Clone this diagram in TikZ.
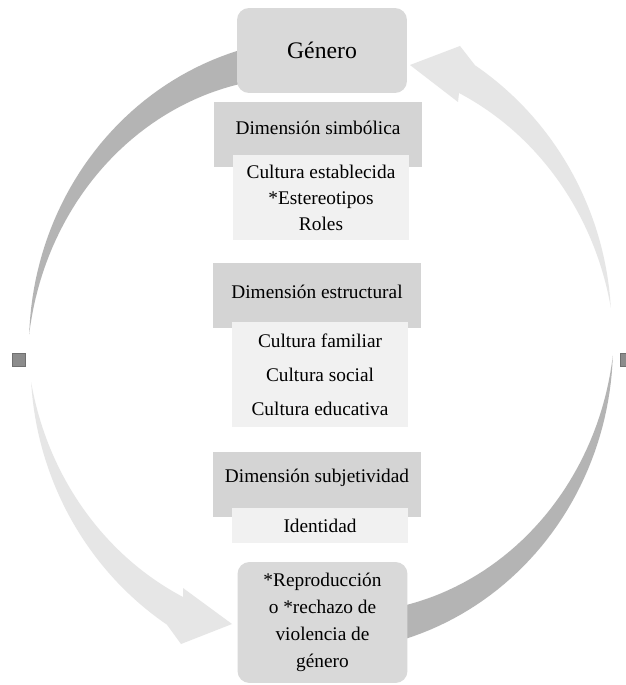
\documentclass[tikz,border=0pt]{standalone}
\usepackage{fontspec}
\setmainfont{Liberation Serif}
\usepackage{tikz}

\definecolor{arcdark}{HTML}{B4B4B4}
\definecolor{arclight}{HTML}{E6E6E6}
\definecolor{boxmain}{HTML}{D9D9D9}
\definecolor{boxhead}{HTML}{D4D4D4}
\definecolor{boxsub}{HTML}{F1F1F1}
\definecolor{handle}{HTML}{8C8C8C}

\begin{document}
\begin{tikzpicture}[x=0.02cm,y=-0.02cm,
		mainbox/.style={rectangle,rounded corners=2.4mm,fill=boxmain,minimum width=34mm,inner sep=0pt,align=center},
		headbox/.style={rectangle,fill=boxhead,minimum width=41.8mm,minimum height=13mm,inner sep=0pt},
		subbox/.style={rectangle,fill=boxsub,minimum width=35.2mm,inner sep=0pt,align=center},
		handlesq/.style={rectangle,fill=handle,draw=handle!80!black,line width=0.2pt,minimum size=2.6mm,inner sep=0pt},
		txt/.style={inner sep=0pt,font=\fontsize{11}{14.8}\selectfont}]
		\fill[white] (0,0) rectangle (625,685);
		\useasboundingbox (0,0) rectangle (625,685);

		% dark arcs, wide at the box and thin at the side
		\fill[arcdark] plot[domain=95:178,samples=50] ({321+292*cos(\x)},{345-307*sin(\x)})
			-- plot[domain=178:95,samples=50] ({321+(292-33*(178-\x)/71.5)*cos(\x)},{345-(307-33*(178-\x)/71.5)*sin(\x)}) -- cycle;
		\fill[arcdark] plot[domain=275:358,samples=50] ({321+292*cos(\x)},{345-307*sin(\x)})
			-- plot[domain=358:275,samples=50] ({321+(292-33*(358-\x)/71.5)*cos(\x)},{345-(307-33*(358-\x)/71.5)*sin(\x)}) -- cycle;

		% light arcs with their heads
		\fill[arclight] plot[domain=187:240,samples=50] ({321+(292+16*(\x-187)/53)*cos(\x)},{345-(307+16*(\x-187)/53)*sin(\x)})
			-- (181,644) -- (232,624) -- (183,588)
			-- plot[domain=240:187,samples=50] ({321+(292-16*(\x-187)/53)*cos(\x)},{345-(307-16*(\x-187)/53)*sin(\x)}) -- cycle;
		\fill[arclight] plot[domain=7:60,samples=50] ({321+(292+16*(\x-7)/53)*cos(\x)},{345-(307+16*(\x-7)/53)*sin(\x)})
			-- (460,46) -- (410,65) -- (458,102)
			-- plot[domain=60:7,samples=50] ({321+(292-16*(\x-7)/53)*cos(\x)},{345-(307-16*(\x-7)/53)*sin(\x)}) -- cycle;

		\node[mainbox,minimum height=17mm,font=\fontsize{13.5}{16}\selectfont] (genero) at (322,50.5) {Género};

		\node[headbox] (simb) at (318,134.5) {};
		\node[txt] (simbT) at (318,128) {Dimensión simbólica};
		\node[subbox,minimum height=17mm,txt] (simbS) at (321,197.5) {Cultura establecida\\*Estereotipos\\Roles};

		\node[headbox] (estr) at (317,295.5) {};
		\node[txt] (estrT) at (317,292) {Dimensión estructural};
		\node[subbox,minimum height=21mm,txt] (estrS) at (320,374.5) {Cultura familiar\\[4.5pt]Cultura social\\[4.5pt]Cultura educativa};

		\node[headbox] (subj) at (317,484.5) {};
		\node[txt] (subjT) at (317,478) {Dimensión subjetividad};
		\node[subbox,minimum height=7mm,txt] (subjS) at (320,525.5) {Identidad};

		\node[mainbox,minimum height=24.2mm,txt,font=\fontsize{11}{15.4}\selectfont] (repro) at (322.5,622.5) {*Reproducción\\o *rechazo de\\violencia de\\género};

		\node[handlesq] (hL) at (18.5,360) {};
		\node[handlesq] (hR) at (626.5,360) {};
\end{tikzpicture}
\end{document}
